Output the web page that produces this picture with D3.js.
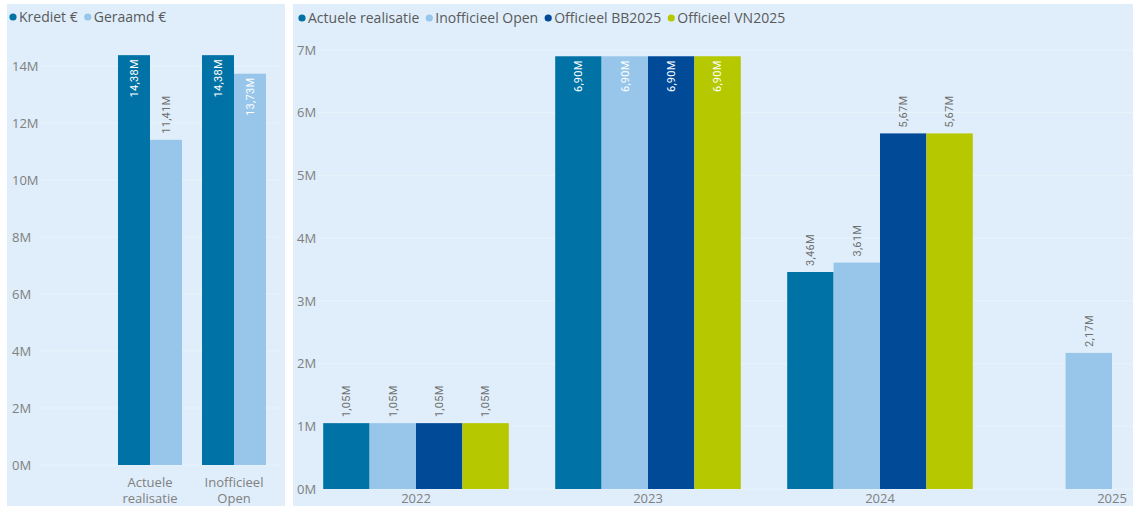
<!DOCTYPE html>
<html><head><meta charset="utf-8">
<script src="https://cdn.jsdelivr.net/npm/d3@7"></script>
<style>
html,body{margin:0;padding:0;background:#fff;overflow:hidden;}
svg{display:block;font-family:"Open Sans","Noto Sans",sans-serif;}
</style></head>
<body><svg id="c" width="1133" height="506"></svg>
<script>
// Left chart data
const leftCategories = [["Actuele","realisatie"],["Inofficieel","Open"]];
const leftSeries = ["Krediet €","Geraamd €"];
const leftKrediet = [14.38, 14.38];
const leftGeraamd = [11.41, 13.73];
const leftTicks = [0,2,4,6,8,10,12,14];

// Right chart data
const years = ["2022","2023","2024","2025"];
const rightSeries = ["Actuele realisatie","Inofficieel Open","Officieel BB2025","Officieel VN2025"];
const actueleRealisatie = [1.05, 6.90, 3.46, null];
const inofficieelOpen   = [1.05, 6.90, 3.61, 2.17];
const officieelBB2025   = [1.05, 6.90, 5.67, null];
const officieelVN2025   = [1.05, 6.90, 5.67, null];
const rightTicks = [0,1,2,3,4,5,6,7];

const leftColors = ["#0072a5","#97c6ea"];
const rightColors = ["#0072a5","#97c6ea","#004a98","#b5c800"];
const panelBg = "#dfeefa";
const gridColor = "#e9f3fc";
const axisText = "#808080";
const legendText = "#5a5a5a";

const svg = d3.select("#c");
const fmt = v => v.toFixed(2).replace(".", ",") + "M";

// panels
svg.append("rect").attr("x",7).attr("y",4).attr("width",278).attr("height",502).attr("fill",panelBg);
svg.append("rect").attr("x",293).attr("y",4).attr("width",840).attr("height",502).attr("fill",panelBg);

function legend(x, y, names, colors){
  const g = svg.append("g").attr("transform",`translate(${x},${y})`);
  let cx = 0;
  names.forEach((n,i)=>{
    g.append("circle").attr("cx",cx+4).attr("cy",0).attr("r",3.6).attr("fill",colors[i]);
    const t = g.append("text").attr("x",cx+10).attr("y",0).attr("dy","0.35em")
      .attr("font-size",14).attr("fill",legendText).text(n);
    cx += 10 + t.node().getComputedTextLength() + 6;
  });
}

// ---------- LEFT ----------
{
  const y = d3.scaleLinear().domain([0,14]).range([465,66]);
  const x0 = d3.scaleBand().domain(leftCategories.map((d,i)=>i)).range([108,276]).paddingInner(0.238).paddingOuter(0.119);
  const x1 = d3.scaleBand().domain([0,1]).range([0,x0.bandwidth()]);
  const ax = d3.axisLeft(y).tickValues(leftTicks).tickFormat(d=>d+"M").tickSize(0);
  const ga = svg.append("g").attr("transform","translate(12,0)").call(ax);
  ga.select(".domain").remove();
  ga.selectAll("text").attr("text-anchor","start").attr("x",0).attr("fill",axisText).attr("font-size",13).attr("font-family","Open Sans, sans-serif");
  // grid
  svg.append("g").selectAll("line").data(leftTicks).join("line")
    .attr("x1",40).attr("x2",280).attr("y1",d=>y(d)).attr("y2",d=>y(d)).attr("stroke",gridColor).attr("stroke-width",1);
  const vals = [leftKrediet,leftGeraamd];
  leftCategories.forEach((c,i)=>{
    vals.forEach((arr,s)=>{
      const v = arr[i];
      const bx = x0(i)+x1(s), bw = x1.bandwidth();
      svg.append("rect").attr("x",bx).attr("y",y(v)).attr("width",bw).attr("height",y(0)-y(v)).attr("fill",leftColors[s]);
      const inside = v > 13;
      svg.append("text").attr("transform",`translate(${bx+bw/2},${inside? y(v)+4 : y(v)-6}) rotate(-90)`)
        .attr("text-anchor",inside?"end":"start").attr("dy","0.35em")
        .attr("font-size",11).attr("font-family","Roboto, sans-serif").attr("letter-spacing","0.3")
        .attr("fill",inside?"#ffffff":"#707070").text(fmt(v));
    });
    const t = svg.append("text").attr("text-anchor","middle").attr("fill",axisText).attr("font-size",13);
    c.forEach((line,k)=>t.append("tspan").attr("x",x0(i)+x0.bandwidth()/2).attr("y",487+k*16).text(line));
  });
  legend(9,17,leftSeries,leftColors);
}

// ---------- RIGHT ----------
{
  const y = d3.scaleLinear().domain([0,7]).range([489,50]);
  const x0 = d3.scaleBand().domain(years).range([300,1228]).paddingInner(0.2).paddingOuter(0.1);
  const x1 = d3.scaleBand().domain(d3.range(4)).range([0,x0.bandwidth()]);
  const ax = d3.axisLeft(y).tickValues(rightTicks).tickFormat(d=>d+"M").tickSize(0);
  const ga = svg.append("g").attr("transform","translate(297,0)").call(ax);
  ga.select(".domain").remove();
  ga.selectAll("text").attr("text-anchor","start").attr("x",0).attr("fill",axisText).attr("font-size",13).attr("font-family","Open Sans, sans-serif");
  svg.append("g").selectAll("line").data(rightTicks).join("line")
    .attr("x1",318).attr("x2",1133).attr("y1",d=>y(d)).attr("y2",d=>y(d)).attr("stroke",gridColor).attr("stroke-width",1);
  const vals = [actueleRealisatie,inofficieelOpen,officieelBB2025,officieelVN2025];
  years.forEach((yr,i)=>{
    vals.forEach((arr,s)=>{
      const v = arr[i];
      if(v==null) return;
      const bx = x0(yr)+x1(s), bw = x1.bandwidth();
      svg.append("rect").attr("x",bx).attr("y",y(v)).attr("width",bw).attr("height",y(0)-y(v)).attr("fill",rightColors[s]);
      const inside = v > 6.5;
      svg.append("text").attr("transform",`translate(${bx+bw/2},${inside? y(v)+4 : y(v)-6}) rotate(-90)`)
        .attr("text-anchor",inside?"end":"start").attr("dy","0.35em")
        .attr("font-size",11).attr("font-family","Roboto, sans-serif").attr("letter-spacing","0.3")
        .attr("fill",inside?"#ffffff":"#707070").text(fmt(v));
    });
    svg.append("text").attr("x",x0(yr)+x0.bandwidth()/2).attr("y",503).attr("text-anchor","middle")
      .attr("fill",axisText).attr("font-size",13).text(yr);
  });
  legend(298,18,rightSeries,rightColors);
}
</script></body></html>
